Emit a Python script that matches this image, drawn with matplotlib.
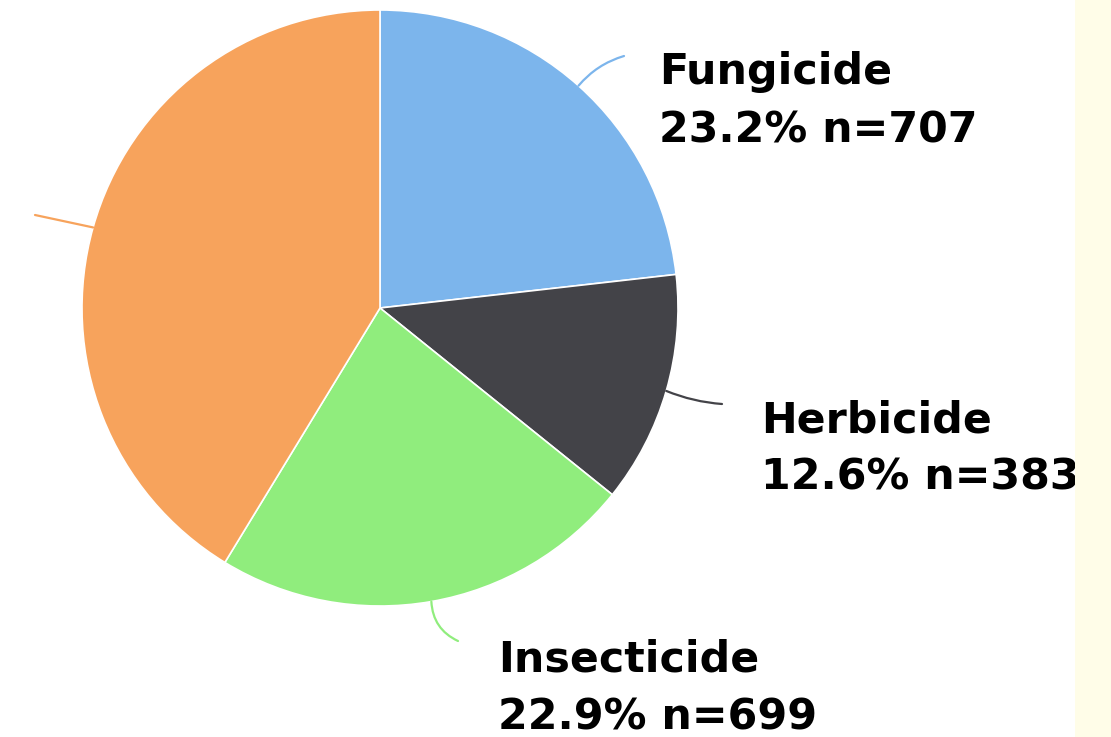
import matplotlib.pyplot as plt
import matplotlib.patches as mpatches
import numpy as np

# pie data
names = ["Fungicide", "Herbicide", "Insecticide", "Other"]
counts = [707, 383, 699, 1258]
colors = ["#7cb5ec", "#434348", "#90ed7d", "#f7a35c"]
show_label = [True, True, True, False]

W, H = 1111, 737
fig = plt.figure(figsize=(W / 100, H / 100), dpi=100)
fig.patch.set_facecolor("white")
ax = fig.add_axes([0, 0, 1, 1])

cx, cy, r = 380, H - 308, 298
total = sum(counts)
wedges, _ = ax.pie(counts, colors=colors, startangle=90, counterclock=False,
                   center=(cx, cy), radius=r, frame=True,
                   wedgeprops=dict(edgecolor="white", linewidth=1.2))
ax.set_xlim(0, W)
ax.set_ylim(0, H)
ax.set_aspect("equal")
ax.axis("off")

# leader line ends and label positions (pixel coords, y from top)
ends = [(624, 56), (722, 404), (458, 641), (35, 215)]
label_xy = [(659, 84), (761, 432), (498, 672), (-300, 230)]
rads = [-0.15, 0.08, 0.3, 0.0]

for i, w in enumerate(wedges):
    mid = np.deg2rad((w.theta1 + w.theta2) / 2)
    sx = cx + r * np.cos(mid)
    sy = cy + r * np.sin(mid)
    ex, ey = ends[i]
    ax.annotate("", xy=(ex, H - ey), xytext=(sx, sy),
                arrowprops=dict(arrowstyle="-", color=colors[i], lw=1.6,
                                shrinkA=0, shrinkB=0,
                                connectionstyle="arc3,rad=%s" % rads[i]))
    if show_label[i]:
        pct = 100.0 * counts[i] / total
        lx, ly = label_xy[i]
        ax.text(lx, H - ly, names[i], fontsize=30.8, fontweight="bold",
                color="black", ha="left", va="baseline")
        ax.text(lx, H - ly - 58, "%.1f%% n=%d" % (pct, counts[i]), fontsize=30.8,
                fontweight="bold", color="black", ha="left", va="baseline")

# yellow strip on the right
ax.add_patch(mpatches.Rectangle((1075, 0), W - 1075, H, facecolor="#fffde8",
                                edgecolor="none", zorder=10))

fig.savefig("out.png", dpi=100)
